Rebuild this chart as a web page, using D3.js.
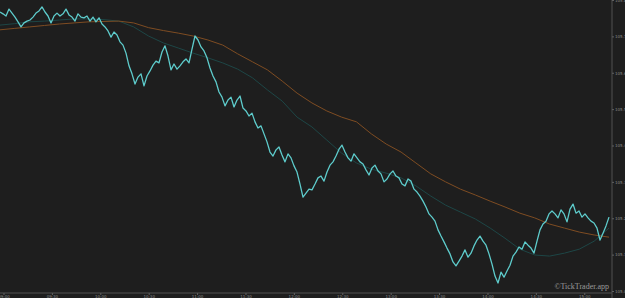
<!DOCTYPE html>
<html><head><meta charset="utf-8">
<script src="https://cdn.jsdelivr.net/npm/d3@7"></script>
<style>html,body{margin:0;padding:0;background:#1e1e1e;overflow:hidden}</style>
</head><body>
<script>
const price = [105.767,105.762,105.756,105.775,105.764,105.753,105.740,105.726,105.737,105.742,105.745,105.753,105.764,105.770,105.781,105.767,105.756,105.737,105.756,105.764,105.756,105.762,105.775,105.759,105.753,105.742,105.762,105.753,105.751,105.756,105.742,105.753,105.740,105.751,105.734,105.726,105.715,105.698,105.712,105.704,105.685,105.676,105.654,105.619,105.597,105.569,105.588,105.597,105.564,105.591,105.605,105.621,105.632,105.627,105.657,105.674,105.646,105.608,105.624,105.610,105.619,105.630,105.638,105.627,105.665,105.701,105.690,105.671,105.660,105.641,105.613,105.591,105.575,105.547,105.533,105.509,105.525,105.533,105.506,105.525,105.536,105.503,105.495,105.481,105.489,105.465,105.448,105.454,105.432,105.410,105.382,105.371,105.388,105.396,105.374,105.355,105.377,105.366,105.344,105.327,105.294,105.258,105.269,105.280,105.278,105.294,105.311,105.316,105.302,105.327,105.346,105.355,105.371,105.390,105.401,105.382,105.366,105.357,105.377,105.366,105.355,105.349,105.333,105.319,105.338,105.346,105.330,105.322,105.300,105.308,105.322,105.330,105.316,105.311,105.294,105.289,105.308,105.302,105.280,105.272,105.261,105.247,105.231,105.212,105.203,105.192,105.168,105.151,105.135,105.118,105.102,105.080,105.069,105.082,105.096,105.113,105.093,105.104,105.124,105.140,105.151,105.137,105.126,105.102,105.074,105.041,105.022,105.052,105.038,105.055,105.071,105.096,105.107,105.121,105.115,105.135,105.126,105.118,105.104,105.137,105.168,105.184,105.192,105.212,105.220,105.212,105.201,105.223,105.212,105.190,105.225,105.239,105.214,105.220,105.203,105.212,105.201,105.192,105.187,105.173,105.140,105.159,105.179,105.203];
const maSlow = [105.718,105.722,105.726,105.730,105.734,105.737,105.740,105.741,105.742,105.737,105.724,105.716,105.709,105.701,105.690,105.676,105.652,105.630,105.608,105.577,105.544,105.517,105.495,105.478,105.465,105.432,105.404,105.382,105.352,105.322,105.300,105.280,105.264,105.247,105.231,105.214,105.201,105.184,105.173,105.162,105.154,105.148];
const maFast = [105.731,105.735,105.740,105.742,105.745,105.748,105.748,105.746,105.742,105.726,105.701,105.682,105.668,105.654,105.641,105.627,105.610,105.586,105.553,105.522,105.478,105.451,105.415,105.379,105.352,105.335,105.324,105.311,105.289,105.261,105.236,105.217,105.198,105.173,105.145,105.115,105.099,105.096,105.104,105.115,105.137,105.173];
const yTickValues = [105.0,105.1,105.2,105.3,105.4,105.5,105.6,105.7,105.8];
const startTime = new Date(2024,0,15,8,57,50);
const endTime = new Date(2024,0,15,15,15,20);

const W = 625, H = 298;
const svg = d3.select("body").append("svg").attr("width",W).attr("height",H)
  .style("display","block").style("background","#1e1e1e");

const plotRight = 609, axisX = 612, axisY = 293;
const span = endTime - startTime;
const t = (i,n) => new Date(+startTime + span*i/(n-1));

const x = d3.scaleTime().domain([startTime,endTime]).range([0,plotRight]);
const y = d3.scaleLinear().domain([105.0,105.8]).range([291,0]);

const line = d3.line().x(d=>x(d.t)).y(d=>y(d.v));
const mk = arr => arr.map((v,i)=>({t:t(i,arr.length),v}));

svg.append("path").datum(mk(maFast)).attr("d",line)
  .attr("fill","none").attr("stroke","#1d4646").attr("stroke-width",1);
svg.append("path").datum(mk(maSlow)).attr("d",line)
  .attr("fill","none").attr("stroke","#7e4c22").attr("stroke-width",1);
svg.append("path").datum(mk(price)).attr("d",line)
  .attr("fill","none").attr("stroke","#5ecccc").attr("stroke-width",1.3)
  .attr("stroke-linejoin","round");

// y axis
const ya = svg.append("g").attr("transform",`translate(${axisX},0)`)
  .call(d3.axisRight(y).tickValues(yTickValues).tickFormat(d3.format(".1f")).tickSize(2).tickPadding(1));
ya.select(".domain").attr("stroke","#505050").attr("d",`M0,0V${H}`);
ya.selectAll(".tick line").attr("stroke","#606060");
ya.selectAll(".tick text").attr("fill","#8a8a8a").style("font","4px 'DejaVu Sans'");

// x axis
const xa = svg.append("g").attr("transform",`translate(0,${axisY})`)
  .call(d3.axisBottom(x).ticks(d3.timeMinute.every(30)).tickFormat(d3.timeFormat("%H:%M")).tickSize(2).tickPadding(0.5));
xa.select(".domain").attr("stroke","#505050").attr("d",`M0,0H${axisX}`);
xa.selectAll(".tick line").attr("stroke","#606060");
xa.selectAll(".tick text").attr("fill","#8a8a8a").style("font","4px 'DejaVu Sans'");

svg.append("text").attr("x",609).attr("y",289).attr("text-anchor","end")
  .attr("fill","#9a9a9a").style("font","8px 'Liberation Serif'")
  .text("©TickTrader.app");
</script>
</body></html>
